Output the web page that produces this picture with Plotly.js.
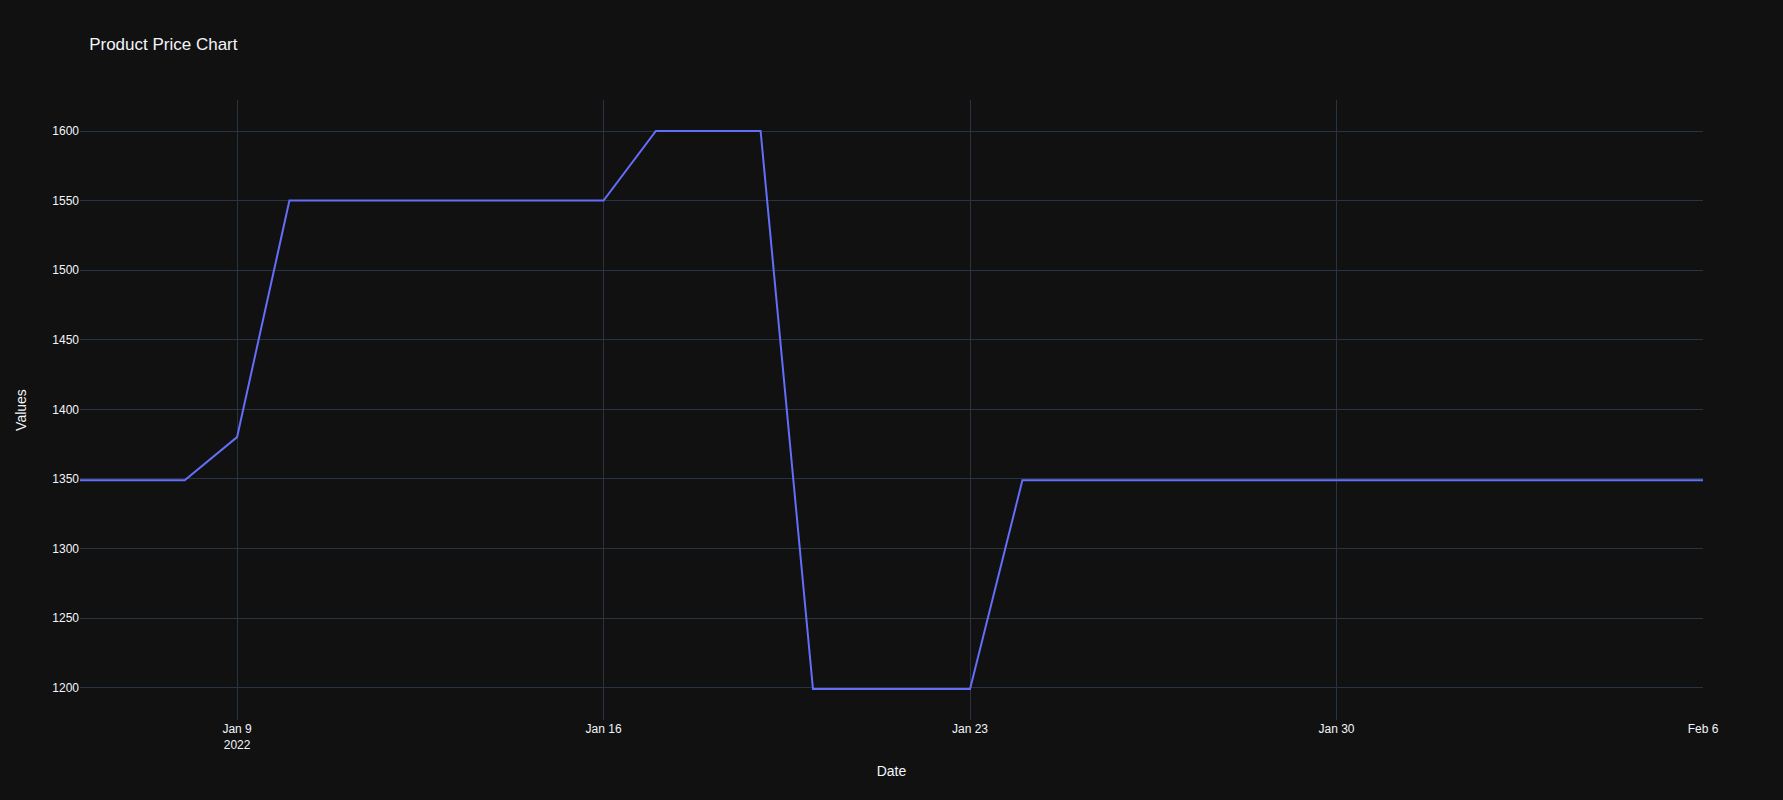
<!DOCTYPE html>
<html>
<head>
<meta charset="utf-8">
<script src="https://cdn.plot.ly/plotly-3.0.1.min.js"></script>
<style>html,body{margin:0;padding:0;background:rgb(17,17,17);}#chart{width:1783px;height:800px;}</style>
</head>
<body>
<div id="chart"></div>
<script>
const dates = [
  "2022-01-06","2022-01-07","2022-01-08","2022-01-09","2022-01-10","2022-01-11","2022-01-12","2022-01-13",
  "2022-01-14","2022-01-15","2022-01-16","2022-01-17","2022-01-18","2022-01-19","2022-01-20","2022-01-21",
  "2022-01-22","2022-01-23","2022-01-24","2022-01-25","2022-01-26","2022-01-27","2022-01-28","2022-01-29",
  "2022-01-30","2022-01-31","2022-02-01","2022-02-02","2022-02-03","2022-02-04","2022-02-05","2022-02-06"
];
const prices = [
  1349, 1349, 1349, 1380, 1550, 1550, 1550, 1550,
  1550, 1550, 1550, 1600, 1600, 1600, 1199, 1199,
  1199, 1199, 1349, 1349, 1349, 1349, 1349, 1349,
  1349, 1349, 1349, 1349, 1349, 1349, 1349, 1349
];
const grid = "#283442";
Plotly.newPlot("chart", [{
  x: dates, y: prices, type: "scatter", mode: "lines",
  line: {color: "#636efa", width: 2}
}], {
  width: 1783, height: 800,
  paper_bgcolor: "rgb(17,17,17)", plot_bgcolor: "rgb(17,17,17)",
  font: {color: "#f2f5fa", family: 'Arial, "Liberation Sans", sans-serif', size: 12},
  title: {text: "Product Price Chart", x: 0.05, font: {size: 17}},
  margin: {l: 80, r: 80, t: 100, b: 80},
  xaxis: {title: {text: "Date", standoff: 15}, automargin: true, gridcolor: grid, linecolor: grid, showline: false, zeroline: false},
  yaxis: {title: {text: "Values", standoff: 22}, automargin: true, gridcolor: grid, linecolor: grid, showline: false, zeroline: false}
}, {displayModeBar: false});
</script>
</body>
</html>
